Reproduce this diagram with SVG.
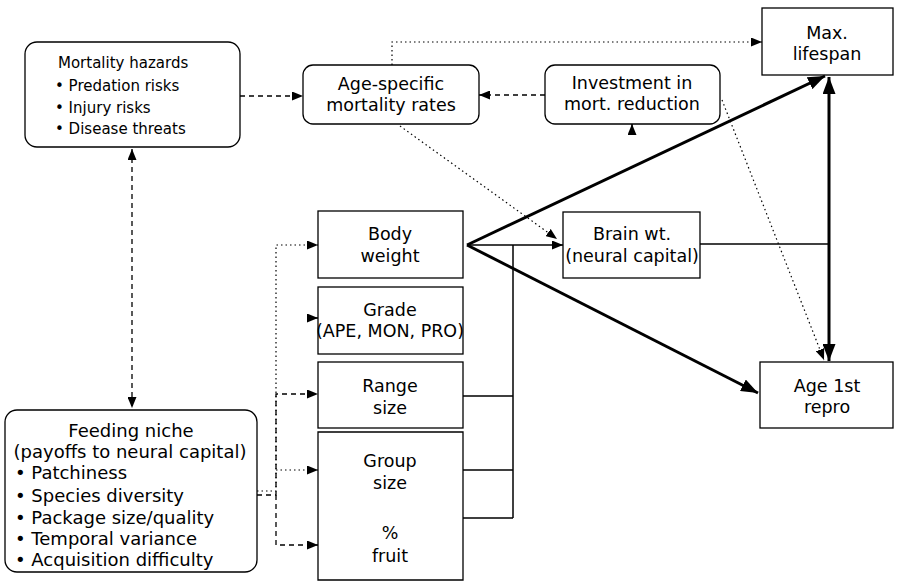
<svg xmlns="http://www.w3.org/2000/svg" width="898" height="582" viewBox="0 0 898 582">
<defs>
<style>
.box{fill:#fff;stroke:#000;stroke-width:1.3}
.open{fill:none;stroke:#000;stroke-width:1.3}
.t{font-family:"DejaVu Sans","Liberation Sans",sans-serif;font-size:17.5px;fill:#000}
.c{text-anchor:middle}
.s15{font-size:15px}
.s18{font-size:18px}
.dash{fill:none;stroke:#000;stroke-width:1.3;stroke-dasharray:5 4}
.dot{fill:none;stroke:#000;stroke-width:1.2;stroke-dasharray:1.5 3}
.thin{fill:none;stroke:#000;stroke-width:1.5}
.thick{fill:none;stroke:#000;stroke-width:3}
</style>
<marker id="a" markerUnits="userSpaceOnUse" markerWidth="11" markerHeight="9" refX="11" refY="4.5" orient="auto-start-reverse">
<path d="M0,0 L11,4.5 L0,9 z" fill="#000"/>
</marker>
<marker id="A" markerUnits="userSpaceOnUse" markerWidth="17" markerHeight="13" refX="17" refY="6.5" orient="auto-start-reverse">
<path d="M0,0 L17,6.5 L0,13 z" fill="#000"/>
</marker>
</defs>
<rect width="898" height="582" fill="#fff"/>

<g id="mortality-hazards">
<rect class="box" x="25" y="42" width="215" height="105" rx="12"/>
<text class="t s15" x="58" y="68">Mortality hazards</text>
<text class="t s15" x="55" y="91">• Predation risks</text>
<text class="t s15" x="55" y="113">• Injury risks</text>
<text class="t s15" x="55" y="134">• Disease threats</text>
</g>

<g id="age-specific">
<rect class="box" x="303" y="65" width="176" height="59" rx="10"/>
<text class="t c" x="391" y="90">Age-specific</text>
<text class="t c" x="391" y="111">mortality rates</text>
</g>

<g id="investment">
<rect class="box" x="545" y="65" width="175" height="59" rx="10"/>
<text class="t c" x="632" y="89">Investment in</text>
<text class="t c" x="632" y="110">mort. reduction</text>
</g>

<g id="max-lifespan">
<rect class="box" x="762" y="8" width="131" height="67"/>
<text class="t c" x="827" y="39">Max.</text>
<text class="t c" x="827" y="60">lifespan</text>
</g>

<g id="body-weight">
<rect class="box" x="318" y="211" width="145" height="67"/>
<text class="t c" x="390" y="240">Body</text>
<text class="t c" x="390" y="262">weight</text>
</g>

<g id="grade">
<rect class="box" x="318" y="287" width="145" height="67"/>
<text class="t c" x="390" y="316">Grade</text>
<text class="t c" x="390" y="337">(APE, MON, PRO)</text>
</g>

<g id="range-size">
<rect class="box" x="318" y="362" width="145" height="66"/>
<text class="t c" x="390" y="392">Range</text>
<text class="t c" x="390" y="414">size</text>
</g>

<g id="group-size">
<path class="open" d="M318,505 V432 H463 V505"/>
<text class="t c" x="390" y="467">Group</text>
<text class="t c" x="390" y="489">size</text>
</g>

<g id="fruit">
<path class="open" d="M318,505 V580 H463 V505"/>
<text class="t c" x="390" y="539">%</text>
<text class="t c" x="390" y="562">fruit</text>
</g>

<g id="brain-wt">
<rect class="box" x="563" y="212" width="137" height="66"/>
<text class="t c" x="632" y="240">Brain wt.</text>
<text class="t c" x="632" y="262">(neural capital)</text>
</g>

<g id="age-1st-repro">
<rect class="box" x="760" y="362" width="133" height="66"/>
<text class="t c" x="827" y="392">Age 1st</text>
<text class="t c" x="827" y="413">repro</text>
</g>

<g id="feeding-niche">
<rect class="box" x="5" y="410" width="252" height="162" rx="12"/>
<text class="t s18 c" x="131" y="437">Feeding niche</text>
<text class="t s18 c" x="130" y="458">(payoffs to neural capital)</text>
<text class="t s18" x="15" y="479">• Patchiness</text>
<text class="t s18" x="15" y="502">• Species diversity</text>
<text class="t s18" x="15" y="524">• Package size/quality</text>
<text class="t s18" x="15" y="545">• Temporal variance</text>
<text class="t s18" x="15" y="566">• Acquisition difficulty</text>
</g>

<g id="connectors">
<path class="dash" d="M240,96 H303" marker-end="url(#a)"/>
<path class="dash" d="M545,95 H479" marker-end="url(#a)"/>
<path class="dot" d="M392,65 V42 H762" marker-end="url(#a)"/>
<path class="thin" d="M632,134 V124" marker-end="url(#a)"/>
<path class="dot" d="M400,126 L557,239" marker-end="url(#a)"/>
<path class="dot" d="M722,100 L824,360" marker-end="url(#a)"/>
<path class="dash" d="M132,149 V408" marker-start="url(#a)" marker-end="url(#a)"/>
<path class="thick" d="M467,245 L825,76" marker-end="url(#A)"/>
<path class="thick" d="M467,245 L758,393" marker-end="url(#A)"/>
<path class="thin" d="M467,245 H563" marker-end="url(#a)"/>
<path class="thick" d="M829,77 V361" marker-start="url(#A)" marker-end="url(#A)"/>
<path class="thin" d="M700,244 H829"/>
<path class="thin" d="M513,245 V518"/>
<path class="thin" d="M463,396 H513 M463,470 H513 M463,518 H513"/>
<path class="dot" d="M257,491 H276 V245 H318" marker-end="url(#a)"/>
<path class="dot" d="M276,470 H318" marker-end="url(#a)"/>
<path class="dash" d="M257,495 H276 V394 H318" marker-end="url(#a)"/>
<path class="dash" d="M276,495 V545 H318" marker-end="url(#a)"/>
<path class="thin" d="M307,318 H318" marker-end="url(#a)"/>
</g>
</svg>
